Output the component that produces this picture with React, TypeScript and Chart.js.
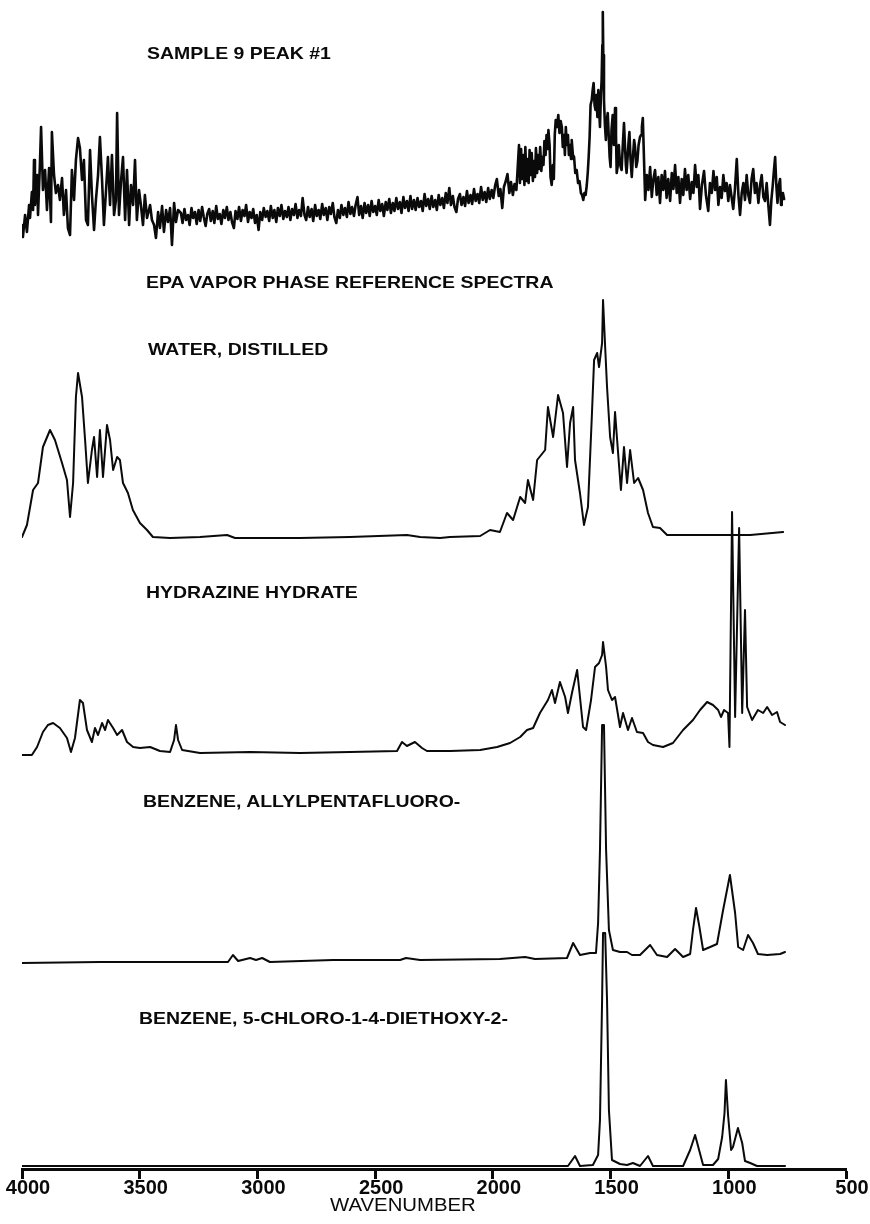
import React, { useEffect, useRef } from "react";
import { Chart, registerables } from "chart.js";

Chart.register(...registerables);

// Wavenumber (cm-1) / relative absorbance pairs for each infrared trace.

// Unknown sample, GC peak #1 (noisy vapour-phase scan)
const sampleWn = [
  4000, 3996, 3987, 3979, 3970, 3966, 3958, 3953, 3949, 3945, 3936, 3932, 3924, 3919, 3911, 3902, 3894, 3885, 3877, 3873,
  3864, 3856, 3847, 3839, 3830, 3822, 3813, 3805, 3796, 3788, 3779, 3771, 3762, 3754, 3745, 3737, 3728, 3720, 3711, 3703,
  3694, 3686, 3677, 3669, 3660, 3652, 3643, 3635, 3626, 3618, 3609, 3601, 3596, 3588, 3579, 3571, 3562, 3554, 3545, 3537,
  3528, 3520, 3512, 3503, 3495, 3486, 3478, 3469, 3456, 3448, 3439, 3431, 3422, 3414, 3405, 3397, 3388, 3380, 3371, 3363,
  3354, 3346, 3337,
  3325, 3318, 3310, 3303, 3295, 3288, 3280, 3273, 3265, 3258,
  3250, 3243, 3235, 3228, 3220, 3213, 3205, 3198, 3190, 3183,
  3175, 3168, 3160, 3153, 3145, 3138, 3130, 3123, 3115, 3108,
  3100, 3093, 3085, 3078, 3070, 3063, 3055, 3048, 3040, 3033,
  3025, 3018, 3010, 3003, 2995, 2988, 2980, 2973, 2965, 2958,
  2950, 2943, 2935, 2928, 2920, 2913, 2905, 2898, 2890, 2883,
  2875, 2868, 2860, 2853, 2845, 2838, 2830, 2823, 2815, 2808,
  2800, 2793, 2785, 2778, 2770, 2763, 2755, 2748, 2740, 2733,
  2725, 2718, 2710, 2703, 2695, 2688, 2680, 2673, 2665, 2658,
  2650, 2643, 2635, 2628, 2620, 2613, 2605, 2598, 2590, 2583,
  2575, 2568, 2560, 2553, 2545, 2538, 2530, 2523, 2515, 2508,
  2500, 2493, 2485, 2478, 2470, 2463, 2455, 2448, 2440, 2433,
  2425, 2418, 2410, 2403, 2395, 2388, 2380, 2373, 2365, 2358,
  2350, 2343, 2335, 2328, 2320, 2313, 2305, 2298, 2290, 2283,
  2275, 2268, 2260, 2253, 2245, 2238, 2230, 2223, 2215, 2208,
  2200, 2193, 2185, 2178, 2170, 2163, 2155, 2148, 2140, 2133,
  2125, 2118, 2110, 2103, 2095, 2088, 2080, 2073, 2065, 2058,
  2050, 2043, 2035, 2028, 2020, 2013, 2005, 1998, 1990, 1983,
  1975, 1968, 1960, 1953, 1945, 1938, 1930, 1923, 1915, 1908,
  1900,
  1889, 1885, 1880, 1876, 1871, 1866, 1862, 1857, 1853, 1848,
  1844, 1839, 1835, 1830, 1826, 1821, 1817, 1812, 1808, 1803,
  1799, 1794, 1790, 1785, 1781, 1776, 1772, 1767, 1764, 1759,
  1755, 1750, 1745, 1741, 1737, 1733, 1728, 1722, 1717, 1712,
  1707, 1703, 1698, 1694, 1690, 1686, 1681, 1677, 1672, 1668,
  1665, 1660, 1655, 1650, 1644, 1638, 1632, 1626, 1621, 1616,
  1611, 1606, 1601, 1597, 1593, 1589, 1585, 1580, 1576, 1572,
  1568, 1564, 1560, 1556, 1552, 1548, 1545, 1541, 1538, 1535,
  1533, 1531, 1528, 1524, 1520, 1516, 1512, 1508, 1504, 1500,
  1496, 1491, 1486, 1481, 1477, 1474, 1469, 1465, 1461, 1457,
  1453, 1448, 1443, 1439, 1435, 1432, 1427, 1423, 1420, 1415,
  1410, 1405, 1400, 1396, 1391, 1386, 1381, 1375, 1370, 1367,
  1363,
  1353, 1346, 1339, 1332, 1325, 1318, 1311, 1304, 1297, 1290,
  1283, 1276, 1269, 1262, 1255, 1247, 1240, 1233, 1226, 1219,
  1212, 1205, 1198, 1191, 1184, 1177, 1170, 1162, 1155, 1148,
  1141, 1134, 1127, 1120, 1112, 1103, 1095, 1085, 1078, 1070,
  1063, 1056, 1049, 1042, 1035, 1028, 1021, 1014, 1007, 1000,
  993, 986, 979, 972, 964, 957, 950, 943, 936, 929,
  922, 915, 908, 901, 894, 887, 880, 872, 865, 858,
  851, 844, 837, 830, 823, 817, 811, 806, 801, 796,
  791, 785, 780, 776, 773, 768, 763,
];
const sampleAbs = [
  20, 8, 30, 13, 40, 27, 53, 35, 85, 40, 70, 30, 80, 118, 55, 75, 35, 77, 23, 113,
  70, 52, 60, 45, 67, 30, 55, 17, 10, 75, 45, 85, 107, 97, 65, 85, 25, 20, 95, 50,
  15, 45, 70, 108, 65, 20, 55, 88, 40, 90, 30, 45, 132, 30, 65, 88, 25, 75, 20, 60,
  40, 85, 25, 55, 40, 20, 50, 27, 40, 25, 20, 7, 33, 17, 39, 13, 35, 23, 37, 0,
  42, 23, 35,
  32, 22, 36, 25, 30, 20, 37, 27, 33, 21,
  35, 24, 38, 28, 19, 31, 36, 24, 34, 22,
  39, 26, 31, 21, 35, 27, 38, 25, 33, 23,
  17, 34, 26, 38, 24, 35, 29, 40, 23, 33,
  27, 36, 22, 30, 15, 33, 25, 37, 28, 34,
  24, 39, 27, 35, 23, 37, 29, 40, 26, 34,
  28, 38, 25, 36, 30, 41, 27, 35, 29, 47,
  30, 25, 38, 28, 36, 24, 40, 29, 35, 26,
  41, 30, 37, 25, 38, 31, 42, 28, 22, 35,
  27, 40, 30, 37, 28, 43, 31, 38, 29, 40,
  48, 30, 39, 27, 42, 32, 40, 29, 44, 33,
  39, 30, 45, 34, 41, 29, 43, 35, 46, 32,
  42, 34, 47, 36, 43, 32, 48, 37, 44, 34,
  49, 36, 45, 35, 47, 38, 44, 34, 51, 39,
  46, 36, 49, 38, 45, 35, 50, 40, 47, 37,
  52, 42, 57, 40, 49, 38, 33, 46, 51, 40,
  48, 39, 54, 42, 50, 41, 56, 44, 51, 42,
  58, 45, 53, 43, 57, 46, 55, 47, 60, 66,
  49, 56, 37, 58, 64, 71, 52, 63, 50, 61,
  55,
  100, 62, 96, 66, 90, 60, 98, 64, 86, 62,
  95, 70, 92, 64, 84, 68, 97, 72, 90, 76,
  98, 74, 88, 80, 104, 90, 110, 96, 115, 100,
  68, 60, 80, 66, 110, 125, 118, 130, 112, 124,
  118, 98, 110, 90, 118, 100, 110, 90, 100, 86,
  105, 90, 88, 72, 75, 62, 64, 52, 50, 45,
  52, 50, 60, 72, 88, 108, 140, 145, 155, 162,
  140, 135, 150, 128, 155, 132, 118, 150, 165, 200,
  233, 190, 145, 120, 105, 125, 132, 110, 88, 78,
  115, 130, 100, 137, 110, 72, 80, 100, 85, 78,
  75, 100, 122, 100, 80, 72, 90, 105, 113, 85,
  68, 88, 105, 98, 78, 84, 100, 108, 110, 118,
  127,
  45, 70, 55, 78, 48, 66, 75, 50, 68, 42,
  70, 55, 74, 47, 66, 44, 72, 56, 80, 52,
  68, 42, 66, 50, 76, 55, 70, 46, 63, 52,
  80, 58, 70, 36, 60, 74, 50, 34, 62, 52,
  74, 55, 68, 40, 58, 47, 70, 54, 62, 44,
  60, 48, 36, 55, 86, 50, 30, 52, 62, 45,
  70, 50, 42, 66, 76, 52, 62, 42, 60, 70,
  48, 44, 62, 40, 20, 45, 60, 75, 88, 60,
  42, 60, 66, 40, 44, 52, 46,
];

// Water, distilled
const waterWn = [
  4000, 3979, 3953, 3932, 3911, 3881, 3860, 3830, 3809, 3796, 3783, 3771, 3762, 3745, 3732, 3720, 3703, 3694, 3681, 3669,
  3656, 3639, 3626, 3613, 3596, 3584, 3571, 3550, 3529, 3499, 3469, 3444, 3371, 3244, 3129, 3095, 2819, 2607, 2365, 2309,
  2224, 2182, 2054, 2012, 1970, 1940, 1914, 1884, 1863, 1851, 1829, 1812, 1778, 1766, 1744, 1723, 1702, 1685, 1672, 1659,
  1651, 1630, 1613, 1596, 1579, 1570, 1557, 1549, 1536, 1532, 1523, 1515, 1502, 1490, 1481, 1468, 1456, 1443, 1430, 1417,
  1400, 1383, 1362, 1341, 1320, 1290, 1260, 1120, 907, 767,
];
const waterAbs = [
  1, 13, 48, 55, 91, 108, 98, 75, 58, 21, 55, 141, 165, 141, 98, 55, 88, 101, 61, 108,
  61, 113, 98, 68, 81, 78, 55, 45, 28, 15, 8, 1, 0, 1, 3, 0, 0, 1, 3, 1,
  0, 1, 2, 8, 6, 25, 18, 41, 35, 58, 38, 78, 88, 131, 101, 143, 125, 71, 115, 131,
  78, 45, 13, 31, 125, 178, 185, 171, 195, 238, 191, 151, 101, 85, 126, 85, 48, 91, 55, 88,
  55, 60, 48, 25, 11, 10, 3, 3, 3, 6,
];

// Hydrazine hydrate
const hydrazineWn = [
  4000, 3958, 3936, 3911, 3890, 3868, 3839, 3809, 3792, 3775, 3754, 3741, 3724, 3703, 3690, 3677, 3660, 3647, 3635, 3613,
  3596, 3575, 3554, 3528, 3499, 3456, 3414, 3371, 3354, 3346, 3337, 3320, 3244, 3031, 2819, 2607, 2407, 2386, 2365, 2331,
  2301, 2280, 2182, 2054, 1982, 1927, 1884, 1855, 1829, 1800, 1766, 1749, 1736, 1715, 1693, 1681, 1664, 1642, 1630, 1617,
  1604, 1583, 1566, 1549, 1536, 1532, 1519, 1511, 1494, 1481, 1460, 1447, 1426, 1409, 1388, 1362, 1341, 1320, 1277, 1235,
  1192, 1150, 1120, 1090, 1065, 1043, 1031, 1018, 1001, 995, 984, 971, 954, 941, 929, 920, 899, 874, 852, 835,
  814, 793, 780, 759,
];
const hydrazineAbs = [
  -2, -2, 6, 21, 28, 30, 25, 15, 1, 15, 53, 50, 23, 11, 25, 18, 30, 23, 33, 25,
  18, 23, 11, 6, 5, 6, 2, 1, 13, 28, 13, 3, 0, 1, 0, 1, 2, 11, 7, 11,
  5, 2, 2, 3, 6, 10, 16, 23, 25, 40, 53, 63, 50, 71, 56, 40, 60, 83, 56, 26,
  23, 53, 86, 90, 98, 111, 86, 63, 53, 56, 26, 40, 23, 35, 21, 20, 11, 8, 6, 10,
  23, 33, 43, 51, 48, 43, 36, 43, 40, 6, 241, 36, 225, 40, 143, 46, 33, 43, 40, 46,
  38, 41, 31, 28,
];

// Benzene, allylpentafluoro-
const allylWn = [
  4000, 3669, 3244, 3125, 3104, 3082, 3031, 3006, 2980, 2947, 2679, 2394, 2369, 2309, 1970, 1863, 1821, 1685, 1659, 1630,
  1587, 1562, 1553, 1545, 1536, 1528, 1519, 1507, 1490, 1460, 1430, 1409, 1375, 1332, 1303, 1260, 1226, 1192, 1162, 1150,
  1137, 1124, 1107, 1077, 1048, 1022, 993, 971, 958, 937, 916, 895, 874, 835, 780, 759,
];
const allylAbs = [
  -1, 0, 0, 0, 7, 1, 4, 2, 4, 0, 2, 2, 4, 2, 3, 5, 3, 4, 19, 7,
  9, 9, 39, 112, 237, 237, 112, 32, 12, 10, 10, 7, 7, 17, 7, 5, 13, 5, 8, 32,
  54, 37, 12, 15, 18, 52, 87, 49, 15, 12, 27, 19, 8, 7, 8, 10,
];

// Benzene, 5-chloro-1-4-diethoxy-2-
const chloroWn = [
  4000, 2913, 1715, 1681, 1651, 1630, 1575, 1553, 1545, 1536, 1532, 1523, 1515, 1507, 1494, 1460, 1430, 1405, 1375, 1341,
  1320, 1192, 1162, 1141, 1124, 1107, 1065, 1043, 1026, 1016, 1010, 1001, 988, 980, 959, 941, 929, 907, 878, 759,
];
const chloroAbs = [
  1, 1, 1, 1, 11, 1, 2, 12, 47, 167, 234, 234, 167, 57, 7, 3, 2, 4, 1, 11,
  1, 1, 17, 32, 17, 2, 2, 8, 30, 54, 87, 52, 17, 20, 39, 24, 6, 4, 1, 1,
];

const wavenumberTicks = [4000, 3500, 3000, 2500, 2000, 1500, 1000, 500];

const PAGE_W = 870;
const PAGE_H = 1224;
const AXIS_Y = 1169; // pixel row of the wavenumber axis line

// Stacked layout: each trace sits on its own baseline row (pixels from the top).
const traces = [
  { wn: sampleWn, abs: sampleAbs, baseline: 245, width: 2.6 },
  { wn: waterWn, abs: waterAbs, baseline: 538, width: 2 },
  { wn: hydrazineWn, abs: hydrazineAbs, baseline: 753, width: 2 },
  { wn: allylWn, abs: allylAbs, baseline: 962, width: 2 },
  { wn: chloroWn, abs: chloroAbs, baseline: 1167, width: 2 },
];

const captions = [
  { text: "SAMPLE 9 PEAK #1", left: 147, top: 45 },
  { text: "EPA VAPOR PHASE REFERENCE SPECTRA", left: 146, top: 274 },
  { text: "WATER, DISTILLED", left: 148, top: 341 },
  { text: "HYDRAZINE HYDRATE", left: 146, top: 584 },
  { text: "BENZENE, ALLYLPENTAFLUORO-", left: 143, top: 793 },
  { text: "BENZENE, 5-CHLORO-1-4-DIETHOXY-2-", left: 139, top: 1010 },
];

const FONT = '"Liberation Sans", Arial, Helvetica, sans-serif';

export default function App() {
  const canvasRef = useRef<HTMLCanvasElement | null>(null);

  useEffect(() => {
    const canvas = canvasRef.current;
    if (!canvas) return;

    const datasets = traces.map((t) => {
      const offset = AXIS_Y - t.baseline;
      return {
        data: t.wn.map((w, i) => ({ x: w, y: offset + t.abs[i] })),
        borderColor: "#0a0a0a",
        borderWidth: t.width,
        pointRadius: 0,
        tension: 0,
        fill: false,
        borderJoinStyle: "round" as const,
        borderCapStyle: "round" as const,
      };
    });

    const chart = new Chart(canvas, {
      type: "line",
      data: { datasets },
      options: {
        animation: false,
        responsive: false,
        devicePixelRatio: 1,
        events: [],
        layout: { padding: { left: 22, right: 24, top: 0, bottom: 0 } },
        plugins: {
          legend: { display: false },
          tooltip: { enabled: false },
          title: { display: false },
        },
        scales: {
          x: {
            type: "linear",
            reverse: true,
            min: 500,
            max: 4000,
            afterBuildTicks: (scale: any) => {
              scale.ticks = wavenumberTicks.map((value) => ({ value }));
            },
            afterFit: (scale: any) => {
              scale.height = PAGE_H - AXIS_Y;
            },
            grid: {
              display: true,
              drawOnChartArea: false,
              drawTicks: true,
              tickLength: 10,
              tickWidth: 3,
              tickColor: "#0a0a0a",
              color: "#0a0a0a",
            },
            border: { display: true, color: "#0a0a0a", width: 3 },
            ticks: {
              color: "#0a0a0a",
              padding: -3,
              labelOffset: 6,
              autoSkip: false,
              maxRotation: 0,
              font: { family: FONT, size: 20, weight: "bold" },
              callback: (v: any) => String(v),
            },
          },
          y: { display: false, min: 0, max: AXIS_Y },
        },
      },
    });

    return () => chart.destroy();
  }, []);

  return (
    <div
      style={{
        position: "absolute",
        left: 0,
        top: 0,
        width: PAGE_W,
        height: PAGE_H,
        background: "#ffffff",
        overflow: "hidden",
      }}
    >
      <canvas
        ref={canvasRef}
        width={PAGE_W}
        height={PAGE_H}
        style={{ position: "absolute", left: 0, top: 0, width: PAGE_W, height: PAGE_H }}
      />
      {captions.map((c) => (
        <div
          key={c.text}
          style={{
            position: "absolute",
            left: c.left,
            top: c.top,
            font: `bold 16.5px ${FONT}`,
            lineHeight: "16.5px",
            color: "#0a0a0a",
            whiteSpace: "nowrap",
            transform: "scaleX(1.18)",
            transformOrigin: "left center",
          }}
        >
          {c.text}
        </div>
      ))}
      <div
        style={{
          position: "absolute",
          left: 330,
          top: 1196,
          font: `18px ${FONT}`,
          lineHeight: "18px",
          color: "#0a0a0a",
          whiteSpace: "nowrap",
          transform: "scaleX(1.13)",
          transformOrigin: "left center",
        }}
      >
        WAVENUMBER
      </div>
    </div>
  );
}
